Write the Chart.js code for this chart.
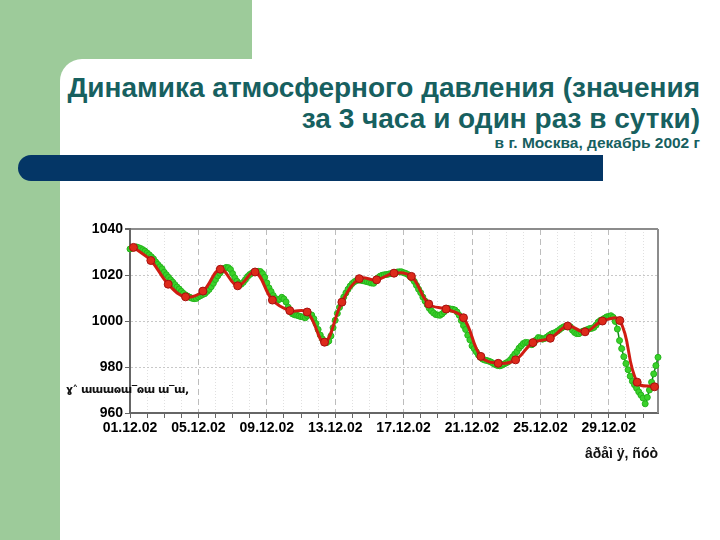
<!DOCTYPE html>
<html><head><meta charset="utf-8">
<script src="https://cdn.jsdelivr.net/npm/chart.js@4/dist/chart.umd.min.js"></script>
<style>
html,body{margin:0;padding:0}
body{width:720px;height:540px;overflow:hidden;background:#9dcb9a;position:relative;font-family:"Liberation Sans",Arial,sans-serif}
#topwhite{position:absolute;left:252px;top:0;width:468px;height:60px;background:#fff}
#white{position:absolute;left:60px;top:59px;width:660px;height:481px;background:#fff;border-top-left-radius:22px}
#bar{position:absolute;left:18px;top:155px;width:585px;height:26px;background:#043666;border-radius:13px 0 0 13px}
.t{position:absolute;right:20px;color:#17605f;font-weight:bold;white-space:nowrap;text-align:right}
#t1{top:72px;font-size:28px;line-height:31px}
#t2{top:103px;font-size:28px;line-height:31px}
#t3{top:134px;font-size:15.5px;line-height:18px}
#wrap{position:absolute;left:60px;top:200px;width:620px;height:273px}
#ylab{position:absolute;left:66px;top:383px;font-size:11px;font-weight:bold;color:#111;white-space:nowrap;font-family:"DejaVu Sans",sans-serif;letter-spacing:-0.5px}
#xlab{position:absolute;right:62px;top:445px;font-size:14px;font-weight:bold;color:#111;white-space:nowrap}
</style></head>
<body>
<div id="topwhite"></div>
<div id="white"></div>
<div id="bar"></div>
<div class="t" id="t1">Динамика атмосферного давления (значения</div>
<div class="t" id="t2">за 3 часа и один раз в сутки)</div>
<div class="t" id="t3">в г. Москва, декабрь 2002 г</div>
<div id="wrap"><canvas id="c" width="620" height="273"></canvas></div>
<div id="ylab">ɣ˄ ɯɯɯɷɯ‾ɷɯ ɯ‾ɯ,</div>
<div id="xlab">âðåì ÿ, ñóò</div>
<script>
// 3-hourly pressure, hPa (8 values per day, 01.12.02 00h ... 31.12.02 21h)
const pressure3h = [
 1031.3,1031.7,1032.0,1032.2,1031.9,1031.5,1031.0,1030.4,
 1029.6,1028.8,1027.9,1027.0,1025.7,1024.6,1023.6,1022.7,
 1021.2,1020.1,1019.0,1017.9,1016.9,1015.8,1014.8,1013.9,
 1012.9,1012.0,1011.3,1010.8,1010.3,1009.9,1009.7,1009.8,
 1010.5,1011.0,1011.5,1011.9,1012.8,1013.7,1014.9,1016.4,
 1018.0,1019.6,1020.8,1022.0,1022.9,1023.3,1023.2,1022.4,
 1020.6,1018.8,1017.3,1016.3,1016.0,1016.8,1018.0,1019.3,
 1020.2,1020.8,1021.2,1021.5,1021.6,1021.5,1020.6,1019.0,
 1016.6,1014.4,1012.8,1011.1,1009.8,1008.9,1009.5,1010.3,
 1009.6,1008.3,1006.0,1004.2,1003.1,1002.7,1002.5,1002.2,
 1001.9,1001.7,1001.4,1002.3,1002.8,1002.6,1001.0,998.9,
 996.3,993.9,992.2,991.2,990.6,991.3,993.5,997.1,
 1000.3,1003.3,1005.9,1008.2,1010.4,1012.2,1013.8,1015.2,
 1016.3,1017.1,1017.6,1017.8,1017.7,1017.5,1017.3,1017.1,
 1016.8,1016.5,1016.4,1017.5,1018.8,1019.5,1019.9,1020.1,
 1020.2,1020.4,1020.6,1020.9,1021.1,1021.3,1021.4,1021.4,
 1021.0,1020.7,1020.2,1019.4,1018.5,1017.2,1015.5,1013.8,
 1012.3,1010.4,1008.7,1007.1,1005.5,1004.4,1003.5,1002.8,
 1002.6,1002.5,1003.1,1004.0,1004.9,1005.4,1005.2,1005.1,
 1004.8,1003.9,1002.5,1000.2,998.0,996.3,993.8,991.8,
 989.2,988.0,986.6,985.2,984.2,983.4,983.0,982.8,
 982.5,982.1,981.5,981.0,980.6,980.5,980.8,981.3,
 981.8,982.3,983.2,984.4,985.6,986.7,988.2,989.2,
 990.2,990.7,990.6,990.0,989.7,990.5,991.8,992.8,
 992.6,992.1,992.4,993.0,993.7,994.3,994.7,995.0,
 995.6,996.3,997.0,997.5,997.6,997.6,997.5,996.0,
 995.0,994.5,994.5,995.2,995.6,995.9,996.3,996.7,
 996.8,997.2,998.2,999.5,1000.2,1000.6,1001.2,1001.8,
 1002.0,1002.3,1001.6,999.8,996.5,991.5,988.0,984.5,
 981.5,978.8,976.0,973.8,972.3,970.8,969.2,967.8,
 966.5,964.0,966.8,970.0,973.4,977.0,980.6,984.2
];
// once-a-day pressure, hPa (01.12 ... 31.12)
const pressureDaily = [
 1032.0,1026.3,1016.0,1010.5,1013.0,1022.5,1015.3,1021.3,1009.1,1004.5,
 1003.9,990.8,1008.2,1018.4,1017.9,1020.8,1019.4,1007.4,1005.2,1001.4,
 984.6,981.6,983.1,990.6,992.5,997.8,995.3,1000.0,1000.2,973.4,971.4
];
const dateLabels = ['01.12.02','05.12.02','09.12.02','13.12.02','17.12.02','21.12.02','25.12.02','29.12.02'];
const yTicks = [960,980,1000,1020,1040];

const tickFont = {family:'"Liberation Sans", Arial, sans-serif', size:14, weight:'bold'};

const frame = {
  id:'frame',
  beforeDatasetsDraw(chart){
    const {ctx, chartArea:a} = chart;
    ctx.save();
    ctx.strokeStyle = '#8c8c8c'; ctx.lineWidth = 2;
    ctx.beginPath(); ctx.moveTo(a.right, a.top); ctx.lineTo(a.right, a.bottom); ctx.stroke();
    ctx.restore();
  }
};

new Chart(document.getElementById('c'), {
  type:'line',
  data:{
    datasets:[
      {
        label:'daily',
        data: pressureDaily.map((v,i)=>({x:i,y:v})),
        xAxisID:'x2',
        borderColor:'#d01c12', borderWidth:3,
        pointRadius:4, pointBackgroundColor:'#dd2a1a', pointBorderColor:'#a51010', pointBorderWidth:1,
        tension:0.4, clip:false
      },
      {
        label:'3h',
        data: pressure3h.map((v,k)=>({x:k,y:v})),
        xAxisID:'x',
        borderColor:'#11861a', borderWidth:1.5,
        pointRadius:3, pointBackgroundColor:'#3ad12a', pointBorderColor:'#25b41c', pointBorderWidth:1,
        tension:0.3, clip:false
      }
    ]
  },
  options:{
    responsive:false, animation:false,
    layout:{padding:{top:29,right:22,left:0,bottom:0}},
    plugins:{legend:{display:false}, tooltip:{enabled:false}},
    scales:{
      x:{
        type:'linear', min:0, max:pressure3h.length-1,
        afterFit(s){ s.height = 60; },
        ticks:{stepSize:8, autoSkip:false, maxRotation:0, includeBounds:false, padding:2, color:'#000', font:tickFont,
          callback:(v)=> v%32===0 ? dateLabels[v/32] : ''},
        grid:{
          color:(c)=> c.tick && c.tick.value===0 ? 'rgba(0,0,0,0)' : (c.tick && c.tick.value%32===0 ? '#bdbdbd' : '#e0e0e0'),
          lineWidth:1, tickColor:'#666', tickLength:5, tickWidth:1
        },
        border:{color:'#666', width:2, dash:(c)=> c.tick && c.tick.value%32===0 ? [6,4] : [1,2]}
      },
      x2:{type:'linear', min:-0.2, max:pressureDaily.length-0.8, display:false},
      y:{
        type:'linear', min:yTicks[0], max:yTicks[yTicks.length-1],
        afterFit(s){ s.width = 70; },
        ticks:{stepSize:20, padding:2, color:'#000', font:tickFont, callback:(v)=> String(v)},
        grid:{
          color:(c)=> c.tick && c.tick.value===1040 ? '#8c8c8c' : (c.tick && c.tick.value===960 ? 'rgba(0,0,0,0)' : '#c8c8c8'),
          lineWidth:(c)=> c.tick && c.tick.value===1040 ? 2 : 1,
          tickColor:'#666', tickLength:5
        },
        border:{color:'#666', width:2, dash:(c)=> c.tick && c.tick.value===1040 ? [] : [2,2]}
      }
    }
  },
  plugins:[frame]
});
</script>
</body></html>
